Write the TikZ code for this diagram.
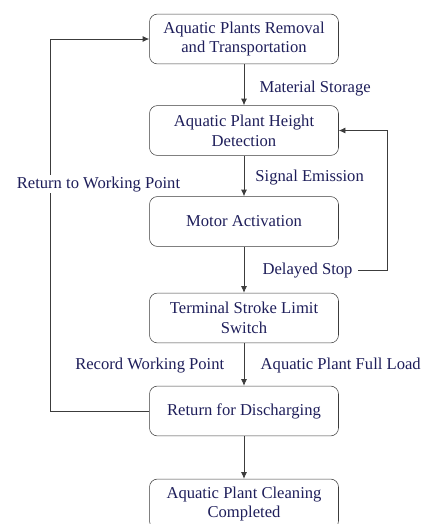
\documentclass[tikz,border=0pt]{standalone}
\usepackage{fontspec}
\setmainfont{Liberation Serif}
\usetikzlibrary{arrows.meta}
\definecolor{ink}{RGB}{30,30,90}
\definecolor{wire}{RGB}{60,60,60}
\begin{document}
\begin{tikzpicture}[font=\fontsize{12.5}{15}\selectfont,
  box/.style={draw=wire, rounded corners=6pt, align=center, minimum width=5cm, minimum height=1.32cm, text=ink},
  lbl/.style={text=ink, fill=white, inner sep=1pt},
  >={Latex[length=5pt,width=4.5pt]}]
\useasboundingbox (-6.456,0) rectangle (4.683,-13.864);
\node[box] (a) at (0,-1.032) {Aquatic Plants Removal\\and Transportation};
\node[box] (b) at (0,-3.453) {Aquatic Plant Height\\Detection};
\node[box] (c) at (0,-5.860) {Motor Activation};
\node[box] (d) at (0,-8.414) {Terminal Stroke Limit\\Switch};
\node[box] (e) at (0,-10.874) {Return for Discharging};
\node[box] (f) at (0,-13.335) {Aquatic Plant Cleaning\\Completed};
\node[lbl, anchor=west] (ms) at (0.37,-2.33) {Material Storage};
\node[lbl, anchor=west] (se) at (0.26,-4.71) {Signal Emission};
\node[lbl] (rw) at (-3.85,-4.87) {Return to Working Point};
\node[lbl, anchor=west] (ds) at (0.45,-7.16) {Delayed Stop};
\node[lbl, anchor=east] (rp) at (-0.48,-9.68) {Record Working Point};
\node[lbl, anchor=west] (fl) at (0.40,-9.66) {Aquatic Plant Full Load};
\begin{scope}[draw=wire, line width=0.6pt]
\draw[->] (a) -- (b);
\draw[->] (b) -- (c);
\draw[->] (c) -- (d);
\draw[->] (d) -- (e);
\draw[->] (e) -- (f);
\draw[->] (ds.east) ++(0.1,0) -| (3.783,-3.453) -- (b.east);
\draw[->] (e.west) -| (-5.133,-1.032) -- (a.west);
\end{scope}
\node[lbl] at (rw) {Return to Working Point};
\end{tikzpicture}
\end{document}
